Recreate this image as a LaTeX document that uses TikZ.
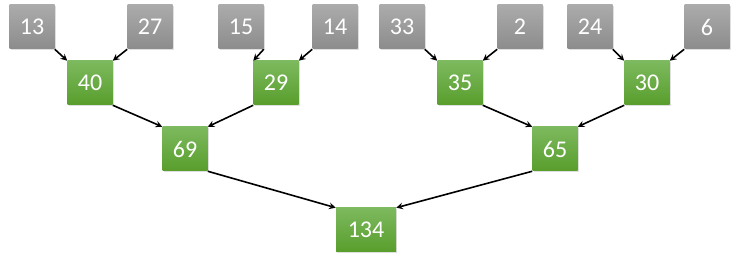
\documentclass[tikz,border=0pt]{standalone}
\usepackage{fontspec}
\setmainfont{Carlito}
\usetikzlibrary{shadows}
\definecolor{grtop}{HTML}{ABABAB}
\definecolor{grbot}{HTML}{8C8C8C}
\definecolor{gntop}{HTML}{7DB95E}
\definecolor{gnbot}{HTML}{589E2C}
\begin{document}
\begin{tikzpicture}[x=0.75pt,y=-0.75pt,>=stealth,
  every node/.style={font=\fontsize{18}{21}\selectfont,text=white},
  leaf/.style={top color=grtop,bottom color=grbot,minimum width=33.75pt,minimum height=33pt,inner sep=0pt,
    drop shadow={opacity=0.25,shadow xshift=1pt,shadow yshift=-1pt}},
  sum/.style={leaf,top color=gntop,bottom color=gnbot},
  line/.style={->,line width=1.2pt,black}]
\useasboundingbox (0,0) rectangle (735,266);
% leaves
\node[leaf] (a) at (32,27) {13};
\node[leaf] (b) at (150,27) {27};
\node[leaf] (c) at (241,27) {15};
\node[leaf] (d) at (335,27) {14};
\node[leaf] (e) at (402,27) {33};
\node[leaf] (f) at (520,27) {2};
\node[leaf] (g) at (590,27) {24};
\node[leaf] (h) at (707,27) {6};
% sums
\node[sum] (ab) at (90,83) {40};
\node[sum] (cd) at (276,83) {29};
\node[sum] (ef) at (460,83) {35};
\node[sum] (gh) at (647,83) {30};
\node[sum] (l) at (185,149) {69};
\node[sum] (r) at (555,149) {65};
\node[sum,minimum width=45pt] (t) at (366,230) {134};
\draw[line] (a.south east)--(ab.north west);\draw[line] (b.south west)--(ab.north east);
\draw[line] (c.south east)--(cd.north west);\draw[line] (d.south west)--(cd.north east);
\draw[line] (e.south east)--(ef.north west);\draw[line] (f.south west)--(ef.north east);
\draw[line] (g.south east)--(gh.north west);\draw[line] (h.south west)--(gh.north east);
\draw[line] (ab.south east)--(l.north west);\draw[line] (cd.south west)--(l.north east);
\draw[line] (ef.south east)--(r.north west);\draw[line] (gh.south west)--(r.north east);
\draw[line] (l.south east)--(t.north west);\draw[line] (r.south west)--(t.north east);
\end{tikzpicture}
\end{document}
